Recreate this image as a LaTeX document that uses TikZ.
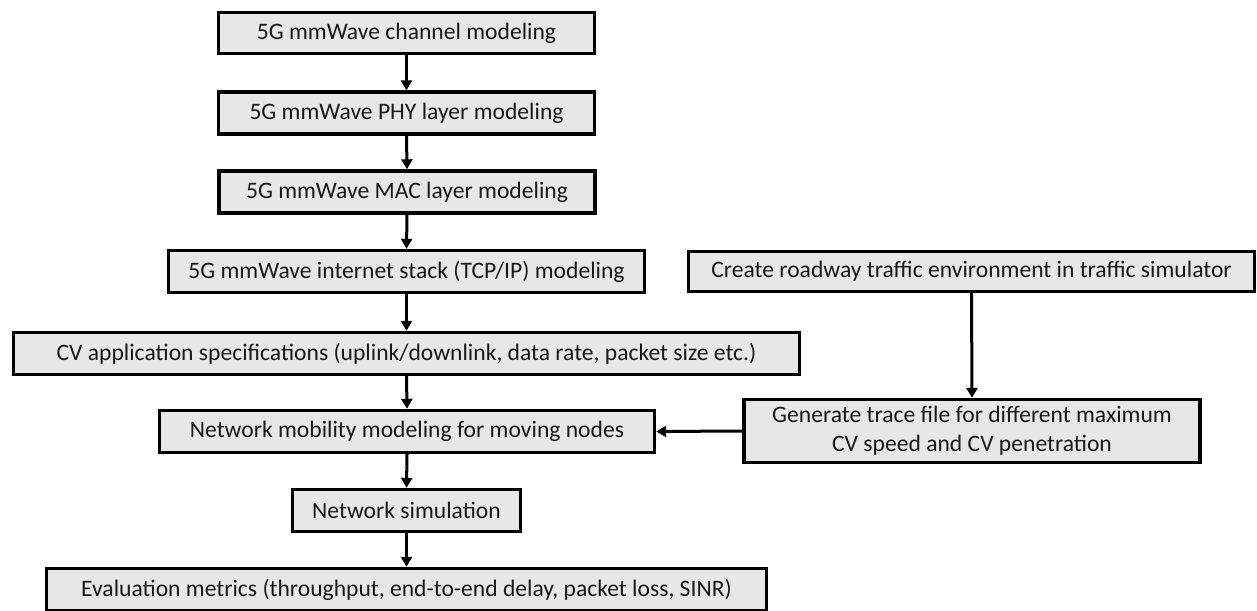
\documentclass[tikz,border=0pt]{standalone}
\usepackage{fontspec}
\setmainfont{Carlito}
\usetikzlibrary{arrows.meta}
\definecolor{boxfill}{RGB}{231,231,231}
\definecolor{txt}{RGB}{25,25,25}
\tikzset{
  box/.style={draw=black, fill=boxfill, line width=3.4pt, inner sep=0pt, text=txt,
    font=\fontsize{23.6}{29}\selectfont, align=center},
  arr/.style={line width=3pt, -{Triangle[length=10pt,width=11pt]}},
}
\begin{document}
\begin{tikzpicture}[x=1pt,y=-1pt]
\useasboundingbox (0,0) rectangle (1257,610);
\node[box, minimum width=376pt, minimum height=41pt] (b1) at (406.5,33) {5G mmWave channel modeling};
\node[box, minimum width=376pt, minimum height=42pt] (b2) at (406.5,113) {5G mmWave PHY layer modeling};
\node[box, minimum width=376pt, minimum height=42pt] (b3) at (407,192) {5G mmWave MAC layer modeling};
\node[box, minimum width=476pt, minimum height=42pt] (b4) at (406.5,271.5) {5G mmWave internet stack (TCP/IP) modeling};
\node[box, minimum width=786pt, minimum height=42pt] (b5) at (406.5,353.5) {CV application specifications (uplink/downlink, data rate, packet size etc.)};
\node[box, minimum width=495pt, minimum height=42pt] (b6) at (407,431.5) {Network mobility modeling for moving nodes};
\node[box, minimum width=228pt, minimum height=42pt] (b7) at (406.5,510.5) {Network simulation};
\node[box, minimum width=720pt, minimum height=42pt] (b8) at (406.5,589.5) {Evaluation metrics (throughput, end-to-end delay, packet loss, SINR)};
\node[box, minimum width=566pt, minimum height=40pt] (b9) at (971.5,271.5) {Create roadway traffic environment in traffic simulator};
\node[box, minimum width=456pt, minimum height=63pt] (b10) at (972,431) {Generate trace file for different maximum\\CV speed and CV penetration};
\draw[arr] (b1.south) -- (b2.north);
\draw[arr] (b2.south) -- (b3.north);
\draw[arr] (b3.south) -- (b4.north);
\draw[arr] (b4.south) -- (b5.north);
\draw[arr] (b5.south) -- (b6.north);
\draw[arr] (b6.south) -- (b7.north);
\draw[arr] (b7.south) -- (b8.north);
\draw[arr] (b9.south) -- (b10.north);
\draw[arr] (b10.west) -- (b6.east);
\end{tikzpicture}
\end{document}
